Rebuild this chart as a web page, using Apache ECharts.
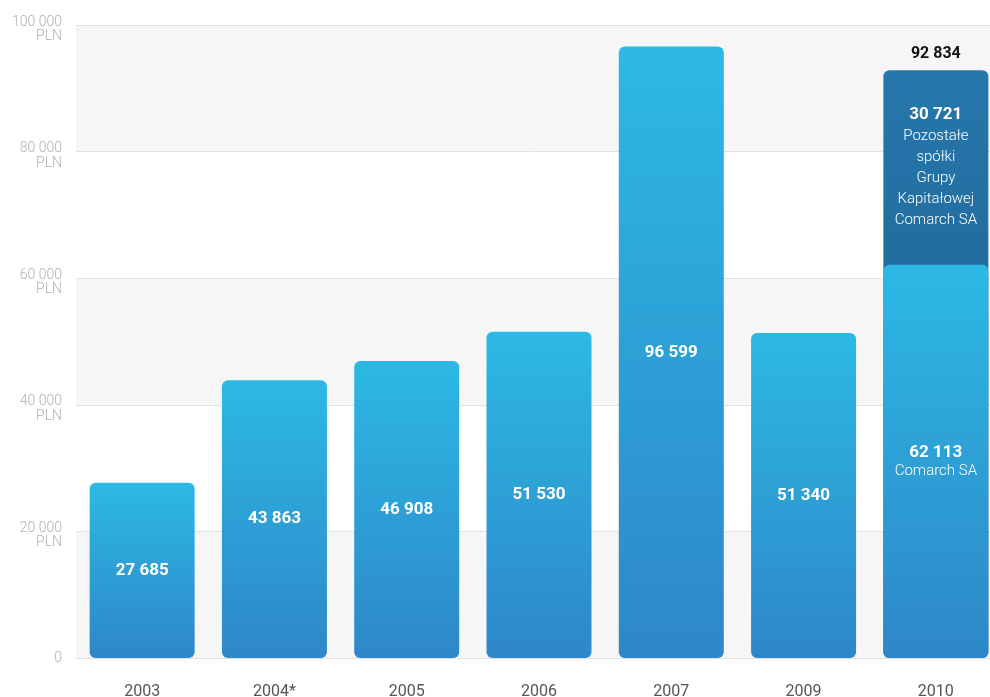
<!DOCTYPE html>
<html>
<head>
<meta charset="utf-8">
<script src="https://cdn.jsdelivr.net/npm/echarts@6/dist/echarts.min.js"></script>
<style>html,body{margin:0;padding:0;background:#fff}#c{width:990px;height:697px}</style>
</head>
<body>
<div id="c"></div>
<script>
const categories = ['2003', '2004*', '2005', '2006', '2007', '2009', '2010'];
const comarchSA = [27685, 43863, 46908, 51530, 96599, 51340, 62113];
const otherCompanies = [null, null, null, null, null, null, 30721];
const comarchName = 'Comarch SA';
const otherNameLines = ['Pozostałe', 'spółki', 'Grupy', 'Kapitałowej', 'Comarch SA'];
const yTickValues = [0, 20000, 40000, 60000, 80000, 100000];
const yTickLabels = ['0', '20 000\nPLN', '40 000\nPLN', '60 000\nPLN', '80 000\nPLN', '100 000\nPLN'];

const totals = comarchSA.map((v, i) => otherCompanies[i] == null ? null : v + otherCompanies[i]);
const fmt = v => String(v).replace(/\B(?=(\d{3})+(?!\d))/g, ' ');
const FONT = 'Roboto, "Noto Sans", sans-serif';
const lastIdx = categories.length - 1;

const lightGrad = {type:'linear',x:0,y:0,x2:0,y2:1,colorStops:[{offset:0,color:'#2cb9e4'},{offset:1,color:'#2e87c8'}]};
const darkGrad = {type:'linear',x:0,y:0,x2:0,y2:1,colorStops:[{offset:0,color:'#2677ac'},{offset:0.33,color:'#226d9f'},{offset:1,color:'#1c5f8e'}]};

const chart = echarts.init(document.getElementById('c'), null, {renderer:'canvas'});
chart.setOption({
  animation: false,
  backgroundColor: '#ffffff',
  grid: {left: 76, width: 926, top: 25, height: 633, containLabel: false, outerBoundsMode: 'none'},
  xAxis: {
    type: 'category',
    data: categories,
    axisLine: {show: true, lineStyle: {color: '#e2e2e2', width: 1}},
    axisTick: {show: false},
    axisLabel: {color: '#555555', fontSize: 16, fontFamily: FONT, margin: 26}
  },
  yAxis: {
    type: 'value',
    min: 0, max: 100000, interval: 20000,
    axisLine: {show: false},
    axisTick: {show: false},
    splitLine: {show: true, lineStyle: {color: '#e2e2e2', width: 1}},
    splitArea: {show: true, areaStyle: {color: ['#f6f6f6', '#ffffff']}},
    axisLabel: {
      color: '#b0b0b0', fontSize: 14, fontFamily: FONT, fontWeight: 300,
      margin: 14, align: 'right',
      formatter: v => {
        const lines = yTickLabels[yTickValues.indexOf(v)].split('\n');
        return lines.length > 1 ? '{a|' + lines[0] + '}\n{b|' + lines[1] + '}' : '{z|' + lines[0] + '}';
      },
      rich: {
        a: {color: '#b0b0b0', fontSize: 14, fontWeight: 300, fontFamily: FONT, lineHeight: 23, verticalAlign: 'bottom'},
        b: {color: '#b0b0b0', fontSize: 14, fontWeight: 300, fontFamily: FONT, lineHeight: 15},
        z: {color: '#b0b0b0', fontSize: 14, fontWeight: 300, fontFamily: FONT, lineHeight: 15}
      }
    }
  },
  series: [
    {
      name: 'total',
      type: 'bar',
      barWidth: 105,
      barGap: '-100%',
      data: totals,
      itemStyle: {color: darkGrad, borderRadius: 6},
      label: {
        show: true, position: 'top', distance: 8,
        color: '#111111', fontSize: 16, fontWeight: 'bold', fontFamily: FONT,
        formatter: p => fmt(p.value)
      },
      z: 1
    },
    {
      name: comarchName,
      type: 'bar',
      stack: 's',
      barWidth: 105,
      data: comarchSA,
      itemStyle: {color: lightGrad, borderRadius: 6},
      label: {
        show: true, position: 'inside',
        formatter: p => p.dataIndex === lastIdx ? '{b|' + fmt(p.value) + '}\n{n|' + comarchName + '}' : '{b|' + fmt(p.value) + '}',
        rich: {
          b: {color: '#ffffff', fontSize: 17, fontWeight: 'bold', fontFamily: FONT, lineHeight: 20},
          n: {color: '#ffffff', fontSize: 15, fontWeight: 300, fontFamily: FONT, lineHeight: 18}
        }
      },
      z: 2
    },
    {
      name: otherNameLines.join(' '),
      type: 'bar',
      stack: 's',
      barWidth: 105,
      data: otherCompanies,
      itemStyle: {color: 'rgba(0,0,0,0)'},
      label: {
        show: true, position: 'inside',
        formatter: p => p.value == null ? '' : '{b|' + fmt(p.value) + '}\n' + otherNameLines.map(s => '{n|' + s + '}').join('\n'),
        rich: {
          b: {color: '#ffffff', fontSize: 17, fontWeight: 'bold', fontFamily: FONT, lineHeight: 21},
          n: {color: '#ffffff', fontSize: 15, fontWeight: 300, fontFamily: FONT, lineHeight: 21}
        }
      },
      z: 3
    }
  ]
});
</script>
</body>
</html>
